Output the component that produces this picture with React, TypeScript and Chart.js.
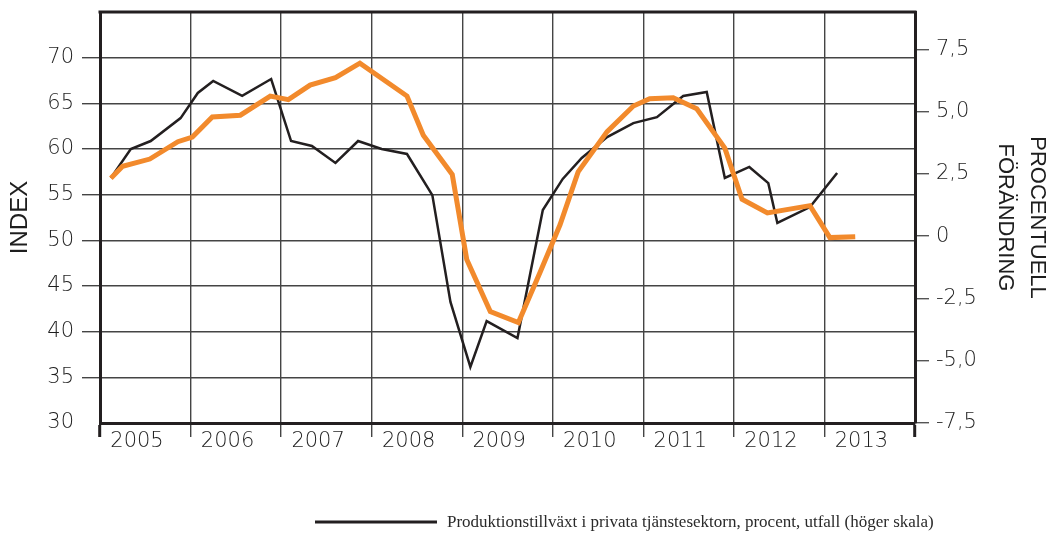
import React, { useEffect, useRef } from 'react';
import { Chart, registerables } from 'chart.js';

Chart.register(...registerables);

// ---- data ----
const yearTicks = [2005, 2006, 2007, 2008, 2009, 2010, 2011, 2012, 2013, 2014];
const yearLabels = ['2005', '2006', '2007', '2008', '2009', '2010', '2011', '2012', '2013', ''];
const indexTicks = [30, 35, 40, 45, 50, 55, 60, 65, 70];
const growthTicks = [-7.5, -5, -2.5, 0, 2.5, 5, 7.5];

// Orange line (left scale, INDEX)
const indexDates = [
  2005.12, 2005.25, 2005.55, 2005.86, 2006.02, 2006.24, 2006.55, 2006.88, 2007.08, 2007.32,
  2007.6, 2007.87, 2008.39, 2008.57, 2008.89, 2009.05, 2009.31, 2009.62, 2009.86, 2010.08,
  2010.28, 2010.6, 2010.89, 2011.07, 2011.33, 2011.59, 2011.9, 2012.09, 2012.37, 2012.84,
  2013.06, 2013.34,
];
const indexValues = [
  56.8, 58.1, 58.9, 60.8, 61.3, 63.5, 63.7, 65.8, 65.4, 67.0,
  67.8, 69.4, 65.8, 61.5, 57.2, 47.9, 42.2, 41.0, 46.5, 51.7,
  57.5, 61.9, 64.7, 65.5, 65.6, 64.4, 60.1, 54.5, 53.0, 53.8,
  50.3, 50.4,
];

// Black line (right scale, percent)
const growthDates = [
  2005.12, 2005.34, 2005.56, 2005.89, 2006.08, 2006.25, 2006.57, 2006.89, 2007.11, 2007.34,
  2007.6, 2007.85, 2008.11, 2008.39, 2008.67, 2008.87, 2009.09, 2009.27, 2009.61, 2009.89,
  2010.11, 2010.32, 2010.6, 2010.89, 2011.15, 2011.44, 2011.7, 2011.9, 2012.17, 2012.38,
  2012.48, 2012.84, 2013.14,
];
const growthValues = [
  2.34, 3.5, 3.82, 4.74, 5.75, 6.23, 5.63, 6.31, 3.82, 3.62,
  2.94, 3.82, 3.5, 3.3, 1.65, -2.64, -5.25, -3.41, -4.09, 1.05,
  2.3, 3.14, 3.98, 4.54, 4.78, 5.63, 5.79, 2.34, 2.78, 2.13,
  0.53, 1.17, 2.54,
];

const legendText = 'Produktionstillväxt i privata tjänstesektorn, procent, utfall (höger skala)';

const ORANGE = '#F28A2C';
const BLACK = '#231F20';
const AXIS = '#231F20';
const GRID = '#444444';
const TEXT = '#1e1e1e';
const TICK_FONT = { family: "'DejaVu Sans', sans-serif", size: 21, weight: 300 as any };

const fmtPct = (v: number) => (v === 0 ? '0' : v.toFixed(1).replace('.', ','));

const framePlugin = {
  id: 'frameAndLegend',
  afterDraw(chart: any) {
    const { ctx, chartArea } = chart;
    ctx.save();
    // top border
    ctx.strokeStyle = AXIS;
    ctx.lineWidth = 3;
    ctx.beginPath();
    ctx.moveTo(chartArea.left - 1.5, chartArea.top);
    ctx.lineTo(chartArea.right + 1.5, chartArea.top);
    ctx.stroke();
    // legend
    const ly = 522;
    ctx.lineWidth = 3;
    ctx.strokeStyle = BLACK;
    ctx.beginPath();
    ctx.moveTo(315, ly);
    ctx.lineTo(437, ly);
    ctx.stroke();
    ctx.fillStyle = '#2a2a2a';
    ctx.font = "17px 'Liberation Serif', serif";
    ctx.textBaseline = 'middle';
    ctx.textAlign = 'left';
    ctx.fillText(legendText, 447, ly + 1);
    ctx.restore();
  },
};

export default function App() {
  const ref = useRef<HTMLCanvasElement>(null);

  useEffect(() => {
    document.body.style.margin = '0';
    document.body.style.overflow = 'hidden';
    const canvas = ref.current;
    if (!canvas) return;
    const chart = new Chart(canvas, {
      type: 'line',
      data: {
        datasets: [
          {
            label: 'Index',
            data: indexDates.map((x, i) => ({ x, y: indexValues[i] })),
            yAxisID: 'y',
            borderColor: ORANGE,
            backgroundColor: ORANGE,
            borderWidth: 5,
            pointRadius: 0,
            tension: 0,
            borderJoinStyle: 'miter',
          },
          {
            label: legendText,
            data: growthDates.map((x, i) => ({ x, y: growthValues[i] })),
            yAxisID: 'y1',
            borderColor: BLACK,
            backgroundColor: BLACK,
            borderWidth: 2.5,
            pointRadius: 0,
            tension: 0,
            borderJoinStyle: 'miter',
          },
        ],
      },
      options: {
        animation: false,
        responsive: true,
        maintainAspectRatio: false,
        layout: { padding: { top: 12, left: 0, right: 0, bottom: 0 } },
        plugins: {
          legend: { display: false },
          tooltip: { enabled: false },
        },
        scales: {
          x: {
            type: 'linear',
            min: 2005,
            max: 2014,
            afterBuildTicks: (s: any) => {
              s.ticks = yearTicks.map((v) => ({ value: v }));
            },
            afterFit: (s: any) => {
              s.height = 114;
              s.paddingLeft = 0;
              s.paddingRight = 0;
            },
            grid: {
              color: (c: any) =>
                c.tick && (c.tick.value === 2005 || c.tick.value === 2014) ? 'rgba(0,0,0,0)' : GRID,
              tickColor: (c: any) =>
                c.tick && (c.tick.value === 2005 || c.tick.value === 2014) ? AXIS : GRID,
              tickWidth: (c: any) =>
                c.tick && (c.tick.value === 2005 || c.tick.value === 2014) ? 3 : 1.4,
              lineWidth: 1.4,
              tickLength: 14,
            },
            border: { display: true, color: AXIS, width: 3 },
            ticks: {
              padding: -8,
              labelOffset: 37,
              maxRotation: 0,
              autoSkip: false,
              color: TEXT,
              font: TICK_FONT,
              callback: (_v: any, i: number) => yearLabels[i],
            },
          },
          y: {
            type: 'linear',
            position: 'left',
            min: 30,
            max: 75,
            afterBuildTicks: (s: any) => {
              s.ticks = indexTicks.map((v) => ({ value: v }));
            },
            afterFit: (s: any) => {
              s.width = 100;
              s.paddingTop = 0;
              s.paddingBottom = 0;
            },
            grid: {
              color: (c: any) => (c.tick && c.tick.value === 30 ? 'rgba(0,0,0,0)' : GRID),
              tickColor: (c: any) => (c.tick && c.tick.value === 30 ? 'rgba(0,0,0,0)' : GRID),
              lineWidth: 1.4,
              tickLength: 18,
            },
            border: { display: true, color: AXIS, width: 3 },
            ticks: {
              padding: 8,
              color: TEXT,
              font: TICK_FONT,
              callback: (v: any) => String(v),
            },
            title: {
              display: true,
              text: 'INDEX',
              color: TEXT,
              font: { family: "'Liberation Sans', sans-serif", size: 24 },
              padding: { top: 6, bottom: 0 },
            },
          },
          y1: {
            type: 'linear',
            position: 'right',
            min: -7.5,
            max: 9,
            afterBuildTicks: (s: any) => {
              s.ticks = growthTicks.map((v) => ({ value: v }));
            },
            afterFit: (s: any) => {
              s.width = 138;
              s.paddingTop = 0;
              s.paddingBottom = 0;
            },
            grid: {
              drawOnChartArea: false,
              color: '#555555',
              lineWidth: 1.4,
              tickLength: 14,
            },
            border: { display: true, color: AXIS, width: 3 },
            ticks: {
              padding: 7,
              color: TEXT,
              font: TICK_FONT,
              callback: (v: any) => fmtPct(Number(v)),
            },
            title: {
              display: true,
              text: ['PROCENTUELL', 'FÖRÄNDRING'],
              color: TEXT,
              font: { family: "'Liberation Sans', sans-serif", size: 22, lineHeight: 1.45 },
              padding: { top: 0, bottom: 0 },
            },
          },
        },
      },
      plugins: [framePlugin],
    });
    return () => chart.destroy();
  }, []);

  return (
    <div style={{ position: 'relative', width: 1053, height: 537 }}>
      <canvas ref={ref} />
    </div>
  );
}
